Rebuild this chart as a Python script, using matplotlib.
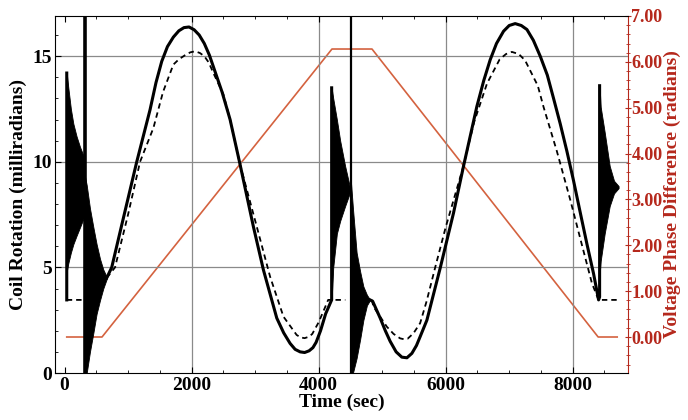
import numpy as np
import matplotlib
matplotlib.use('Agg')
import matplotlib.pyplot as plt
from matplotlib.ticker import MultipleLocator, FormatStrFormatter

nan = np.nan

# ---- data ----
# solid curve: coil rotation (milliradians), NaN separates pieces
solid_t = [35, 35, nan,
           664, 743, 900, 1137, 1346, 1440, 1530, 1620, 1713, 1800, 1880, 1960, 2040, 2120,
           2200, 2280, 2343, 2480, 2606, 2764, 2973, 3131, 3341, 3450, 3551, 3630, 3709,
           3780, 3850, 3910, 3960, 4030, 4110, 4205, 4205, nan,
           4811, 4850, 4969, 5050, 5126, 5220, 5310, 5390, 5468, 5540, 5598, 5704, 5913,
           6123, 6280, 6491, 6600, 6701, 6800, 6911, 7000, 7094, 7190, 7279, 7380, 7488,
           7600, 7698, 7803, 7908, 8013, 8118, 8224, 8328, 8407, 8423, 8423]
solid_val = [3.46, 14.2, nan,
             4.5, 5.0, 7.0, 10.0, 12.46, 13.75, 14.75, 15.45, 15.9, 16.2, 16.35, 16.38,
             16.25, 16.0, 15.6, 15.05, 14.5, 13.3, 12.0, 9.86, 6.93, 4.88, 2.6, 1.9, 1.4,
             1.12, 1.0, 0.97, 1.05, 1.2, 1.45, 2.0, 2.8, 3.46, 13.5, nan,
             3.46, 3.4, 2.6, 2.0, 1.5, 1.0, 0.75, 0.72, 0.93, 1.3, 1.72, 2.5, 4.96,
             7.57, 9.78, 12.62, 13.85, 14.83, 15.6, 16.18, 16.45, 16.54, 16.45, 16.26, 15.75,
             15.0, 14.1, 13.0, 11.8, 10.5, 9.1, 7.6, 6.1, 4.7, 3.46, 3.6, 13.6]

# dashed curve: steady-state coil rotation
dash_t = [35, 280, nan,
          664, 795, 1000, 1189, 1399, 1550, 1713, 1800, 1900, 1980, 2055, 2130, 2200, 2270,
          2343, 2500, 2606, 2764, 3026, 3236, 3446, 3654, 3720, 3780, 3850, 3900, 4000,
          4100, 4150, 4420, nan,
          4838, 4863, 5074, 5180, 5283, 5340, 5400, 5493, 5598, 5700, 5835, 6000, 6276,
          6450, 6650, 6850, 6950, 7042, 7150, 7250, 7450, 7540, 7750, 7961, 8150, 8302,
          8407, nan,
          8459, 8700]
dash_val = [3.46, 3.46, nan,
            4.5, 5.0, 7.5, 10.0, 11.6, 13.3, 14.6, 14.85, 15.05, 15.18, 15.23, 15.15, 15.0,
            14.7, 14.2, 13.2, 12.0, 9.86, 6.93, 4.56, 2.67, 1.8, 1.68, 1.65, 1.72, 1.85,
            2.4, 3.1, 3.46, 3.46, nan,
            3.46, 3.14, 2.19, 1.85, 1.64, 1.6, 1.62, 1.88, 2.36, 3.4, 5.0, 6.9, 9.76,
            11.9, 13.7, 14.85, 15.1, 15.2, 15.1, 14.8, 13.6, 12.6, 10.5, 8.2, 6.0, 4.25,
            3.46, nan,
            3.46, 3.46]

# ringing envelopes (upper / lower) of the solid curve
ring1_t = [35, 60, 100, 139, 190, 244, 323]
ring1_hi = [14.2, 13.5, 12.5, 11.8, 11.2, 10.7, 10.1]
ring1_lo = [4.8, 5.2, 5.7, 6.1, 6.5, 6.9, 7.5]

ring2_t = [323, 349, 400, 454, 505, 559, 610, 664]
ring2_hi = [9.3, 8.9, 7.8, 6.9, 6.1, 5.4, 4.9, 4.55]
ring2_lo = [0.0, 0.0, 1.0, 1.9, 2.8, 3.45, 4.0, 4.45]

ring3_t = [4205, 4230, 4287, 4339, 4417, 4500]
ring3_hi = [13.5, 13.0, 12.0, 11.0, 9.8, 8.7]
ring3_lo = [3.46, 5.0, 6.6, 7.2, 7.9, 8.6]

ring4_t = [4510, 4540, 4598, 4654, 4704, 4760, 4811]
ring4_hi = [9.0, 7.8, 5.7, 4.8, 4.1, 3.7, 3.46]
ring4_lo = [0.0, 0.0, 0.7, 1.6, 2.5, 3.2, 3.46]

ring5_t = [8423, 8440, 8503, 8582, 8650, 8722]
ring5_hi = [13.6, 12.6, 11.4, 9.8, 9.1, 8.85]
ring5_lo = [4.6, 5.3, 6.6, 7.9, 8.5, 8.75]

# off-scale transients (full-height)
transient_t = [323, 4510]
transient_w = [2.6, 1.6]

# voltage phase difference (radians)
phase_t = [35, 590, 4210, 4840, 8400, 8700]
phase_val = [0.0, 0.0, 6.28, 6.28, 0.0, 0.0]

x_ticks = [0, 2000, 4000, 6000, 8000]
y_ticks = [0, 5, 10, 15]
y2_ticks = [0, 1, 2, 3, 4, 5, 6, 7]

# ---- styling ----
plt.rcParams['font.family'] = ['Liberation Serif', 'DejaVu Serif']
plt.rcParams['font.weight'] = 'bold'
RED_AX = '#b5281c'
RED_LINE = '#d4623f'
GRID = '#8a8a8a'

fig = plt.figure(figsize=(6.88, 4.2), dpi=100)
ax = fig.add_axes([55/688, 1-373/420, (628-55)/688, (373-16)/420])
ax2 = ax.twinx()
ax.set_zorder(ax2.get_zorder() + 1)
ax.patch.set_visible(False)

ax.set_xlim(-150, 8870)
ax.set_ylim(0, 16.9)
ax2.set_ylim(-0.785, 7.0)

# grid
for gx in x_ticks[1:]:
    ax.axvline(gx, color=GRID, lw=0.9, zorder=0)
for gy in y_ticks[1:]:
    ax.axhline(gy, color=GRID, lw=0.9, zorder=0)

# phase line on right axis
ax2.plot(phase_t, phase_val, color=RED_LINE, lw=1.2)

# rings
for t, hi, lo in [(ring1_t, ring1_hi, ring1_lo), (ring2_t, ring2_hi, ring2_lo),
                  (ring3_t, ring3_hi, ring3_lo), (ring4_t, ring4_hi, ring4_lo),
                  (ring5_t, ring5_hi, ring5_lo)]:
    ax.fill_between(t, lo, hi, color='black', lw=0.6, zorder=3)

for tt, w in zip(transient_t, transient_w):
    ax.axvline(tt, color='black', lw=w, zorder=3)

ax.plot(dash_t, dash_val, color='black', lw=1.3, ls=(0, (3, 2.2)), zorder=3)
ax.plot(solid_t, solid_val, color='black', lw=2.2, zorder=4, solid_joinstyle='round')

# ticks
ax.set_xticks(x_ticks)
ax.set_yticks(y_ticks)
ax.xaxis.set_minor_locator(MultipleLocator(500))
ax.yaxis.set_minor_locator(MultipleLocator(1))
ax.tick_params(axis='x', which='both', direction='in', top=True, labelsize=14, pad=3)
ax.tick_params(axis='y', which='both', direction='in', right=False, labelsize=14, pad=2)
ax.tick_params(which='major', length=4)
ax.tick_params(which='minor', length=2)
ax.spines['right'].set_visible(False)

ax2.set_yticks(y2_ticks)
ax2.yaxis.set_major_formatter(FormatStrFormatter('%.2f'))
ax2.yaxis.set_minor_locator(MultipleLocator(0.2))
ax2.tick_params(axis='y', which='both', direction='inout', colors=RED_AX, labelsize=13, pad=0)
ax2.tick_params(axis='y', which='major', length=5)
ax2.tick_params(axis='y', which='minor', length=3)
ax2.spines['right'].set_color(RED_AX)
for s in ['left', 'top', 'bottom']:
    ax2.spines[s].set_visible(False)

for lab in ax.get_xticklabels() + ax.get_yticklabels() + ax2.get_yticklabels():
    lab.set_fontweight('bold')

ax.set_xlabel('Time (sec)', fontsize=14, fontweight='bold', labelpad=0)
ax.set_ylabel('Coil Rotation (milliradians)', fontsize=14, fontweight='bold', labelpad=4)
ax2.set_ylabel('Voltage Phase Difference (radians)', fontsize=14, fontweight='bold',
               color=RED_AX, labelpad=1)

fig.savefig('out.png', dpi=100)
